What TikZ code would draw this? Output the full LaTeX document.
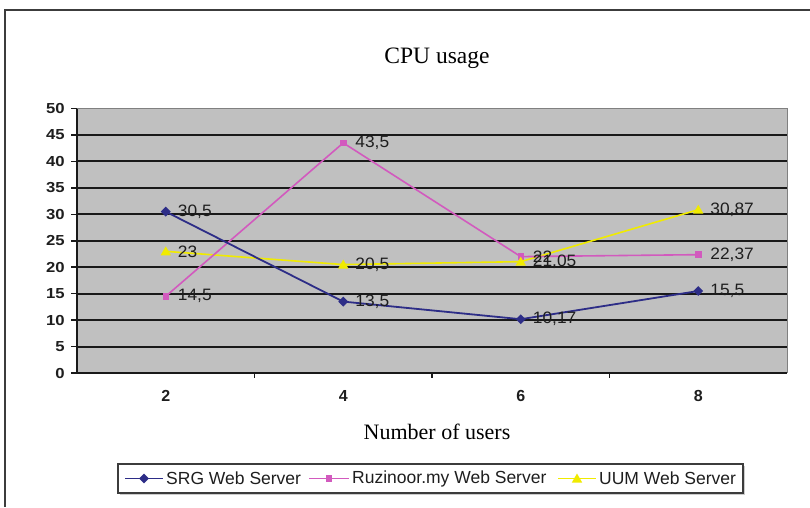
\documentclass[tikz,border=0pt]{standalone}
\usepackage{fontspec}
\setmainfont{Liberation Serif}
\setsansfont{Liberation Sans}
\usetikzlibrary{shapes.geometric,calc}

\definecolor{plotgray}{RGB}{192,192,192}
\definecolor{gridblack}{RGB}{25,25,25}
\definecolor{framegray}{RGB}{60,60,60}
\definecolor{srgcol}{RGB}{45,45,135}
\definecolor{ruzcol}{RGB}{210,90,190}
\definecolor{uumcol}{RGB}{240,235,0}
\definecolor{labelcol}{RGB}{30,30,30}

\begin{document}
\begin{tikzpicture}[x=1pt,y=-1pt,
  gridline/.style={gridblack,line width=1.9pt},
  axisline/.style={gridblack,line width=1.6pt},
  ylab/.style={anchor=east,inner sep=0pt,text=labelcol,font=\sffamily\bfseries\fontsize{14.5}{16}\selectfont,xscale=1.15},
  xlab/.style={anchor=center,inner sep=0pt,text=labelcol,font=\sffamily\bfseries\fontsize{16}{18}\selectfont},
  datalab/.style={anchor=west,inner sep=0pt,text=labelcol,font=\sffamily\fontsize{16.5}{18}\selectfont,xscale=1.05},
  titletext/.style={anchor=center,inner sep=0pt,font=\fontsize{23.5}{26}\selectfont},
  axtitle/.style={anchor=center,inner sep=0pt,font=\fontsize{22}{26}\selectfont},
  legtext/.style={anchor=west,inner sep=0pt,text=labelcol,font=\sffamily\fontsize{17.5}{20}\selectfont},
  srgline/.style={srgcol,line width=1.8pt},
  ruzline/.style={ruzcol,line width=1.6pt},
  uumline/.style={uumcol,line width=1.6pt},
  srgmark/.style={diamond,fill=srgcol,inner sep=0pt,minimum size=10pt},
  ruzmark/.style={rectangle,fill=ruzcol,inner sep=0pt,minimum size=6.5pt},
  uummark/.style={regular polygon,regular polygon sides=3,fill=uumcol,inner sep=0pt,minimum size=12pt},
]
\useasboundingbox (0,0) rectangle (810,507);
\fill[white] (0,0) rectangle (810,507);

% outer frame: top rule and left rule
\draw[framegray,line width=1.5pt] (810,10) -- (5,10) -- (5,507);

% title and axis title
\node[titletext] (title) at (437,58) {CPU usage};
\node[axtitle] (xtitle) at (437,432) {Number of users};

% plot area
\fill[plotgray] (77,108.5) rectangle (787,373);
\draw[gray,line width=0.8pt] (77,108.5) -- (787,108.5) -- (787,373);

% horizontal grid lines, ticks and value labels
\foreach \v in {5,10,...,45} {
  \draw[gridline] (77,{373-5.29*\v}) -- (787,{373-5.29*\v});
}
\foreach \v in {0,5,...,50} {
  \draw[axisline] (71,{373-5.29*\v}) -- (77,{373-5.29*\v});
  \node[ylab] (y\v) at (65,{373-5.29*\v}) {\v};
}

% axes and category ticks
\draw[axisline] (77,108.5) -- (77,373) -- (787,373);
\foreach \i in {1,2,3} {
  \draw[axisline,line width=1.2pt] ({77+177.5*\i},373) -- ({77+177.5*\i},378);
}
\foreach \c/\lab in {0/2,1/4,2/6,3/8} {
  \node[xlab] (x\lab) at ({77+177.5*(\c+0.5)},396) {\lab};
}

% data points
\foreach \c/\s/\r/\u in {1/30.5/14.5/23, 2/13.5/43.5/20.5, 3/10.17/22/21.05, 4/15.5/22.37/30.87} {
  \coordinate (s\c) at ({77+177.5*(\c-0.5)},{373-5.29*\s});
  \coordinate (r\c) at ({77+177.5*(\c-0.5)},{373-5.29*\r});
  \coordinate (u\c) at ({77+177.5*(\c-0.5)},{373-5.29*\u});
}

% series lines
\draw[uumline] (u1) -- (u2) -- (u3) -- (u4);
\draw[ruzline] (r1) -- (r2) -- (r3) -- (r4);
\draw[srgline] (s1) -- (s2) -- (s3) -- (s4);

% markers
\foreach \c in {1,2,3,4} {
  \node[ruzmark] (rm\c) at (r\c) {};
  \node[uummark] (um\c) at ([yshift=-1pt]u\c) {};
  \node[srgmark] (sm\c) at (s\c) {};
}

% data labels
\node[datalab] (ls1) at ([xshift=12pt]s1) {30,5};
\node[datalab] (ls2) at ([xshift=12pt]s2) {13,5};
\node[datalab] (ls3) at ([xshift=12pt]s3) {10,17};
\node[datalab] (ls4) at ([xshift=12pt]s4) {15,5};
\node[datalab] (lr1) at ([xshift=12pt]r1) {14,5};
\node[datalab] (lr2) at ([xshift=12pt]r2) {43,5};
\node[datalab] (lr3) at ([xshift=12pt]r3) {22};
\node[datalab] (lr4) at ([xshift=12pt]r4) {22,37};
\node[datalab] (lu1) at ([xshift=12pt]u1) {23};
\node[datalab] (lu2) at ([xshift=12pt]u2) {20,5};
\node[datalab] (lu3) at ([xshift=12pt]u3) {21,05};
\node[datalab] (lu4) at ([xshift=12pt]u4) {30,87};

% legend
\fill[black!20] (120,466) rectangle (745,495);
\draw[fill=white,draw=framegray,line width=1.4pt] (118,464) rectangle (743,493);
\coordinate (la1) at (125,478.5);  \coordinate (lb1) at (163,478.5);
\coordinate (la2) at (309,478.5);  \coordinate (lb2) at (349,478.5);
\coordinate (la3) at (558,478.5);  \coordinate (lb3) at (596,478.5);
\draw[srgline] (la1) -- (lb1);
\draw[ruzline] (la2) -- (lb2);
\draw[uumline] (la3) -- (lb3);
\node[srgmark] (lm1) at ($(la1)!0.5!(lb1)$) {};
\node[ruzmark] (lm2) at ($(la2)!0.5!(lb2)$) {};
\node[uummark] (lm3) at ([yshift=-1pt]$(la3)!0.5!(lb3)$) {};
\node[legtext] (lt1) at (166,478.5) {SRG Web Server};
\node[legtext] (lt2) at (352,478.5) {Ruzinoor.my Web Server};
\node[legtext] (lt3) at (599,478.5) {UUM Web Server};
\end{tikzpicture}
\end{document}
